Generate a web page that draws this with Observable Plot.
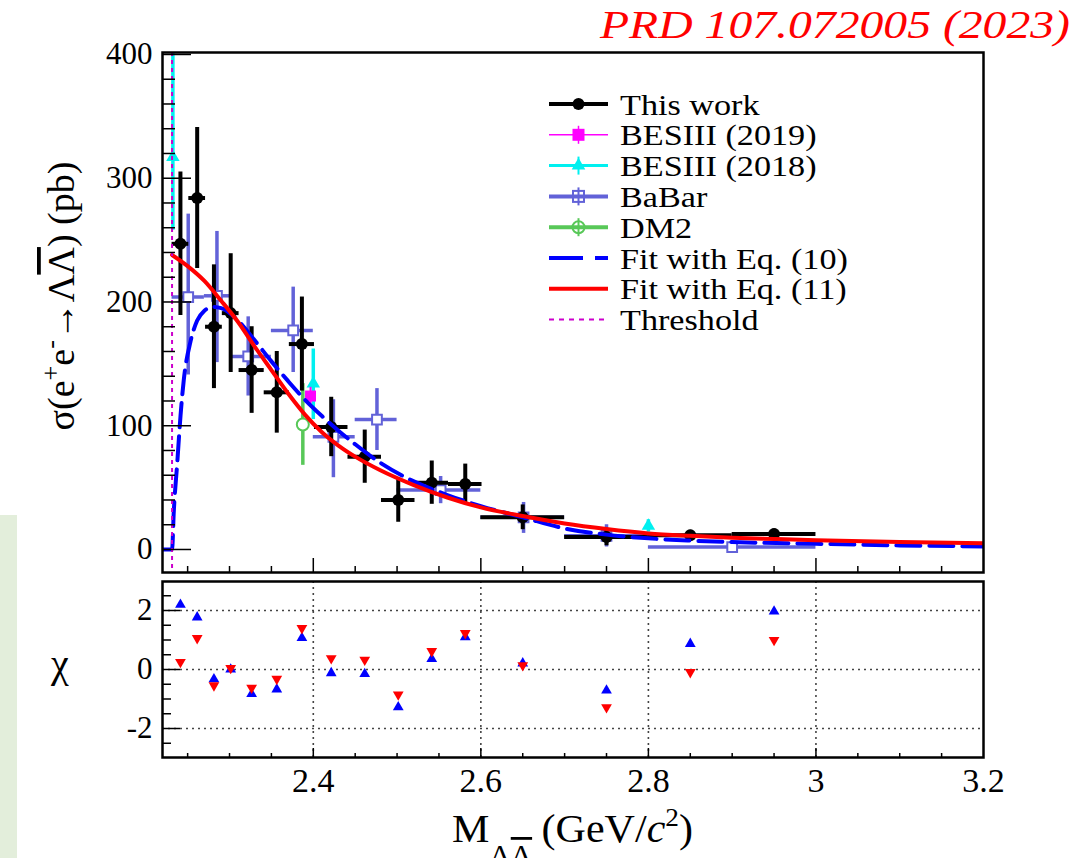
<!DOCTYPE html>
<html><head><meta charset="utf-8">
<script src="https://cdn.jsdelivr.net/npm/d3@7"></script>
<script src="https://cdn.jsdelivr.net/npm/@observablehq/plot@0.6"></script>
<style>
html,body{margin:0;padding:0;background:#fff;}
#fig{position:relative;width:1090px;height:858px;overflow:hidden;font-family:"Liberation Serif","Times New Roman",serif;}
#fig > svg{position:absolute;left:0;top:0;}
#greenbox{position:absolute;left:0;top:515px;width:17px;height:343px;background:#e3eedb;}
</style></head><body><div id="fig"><div id="greenbox"></div></div>
<script>
// ---------------- data ----------------
const thresholdMass = [2.2314];

// This work (BESIII ISR)
const twMass  = [2.2414, 2.2614, 2.2814, 2.3014, 2.3264, 2.3564, 2.3864, 2.4214, 2.4614, 2.5014, 2.5414, 2.5814, 2.65, 2.75, 2.85, 2.95];
const twLo    = [2.2314, 2.2514, 2.2714, 2.2914, 2.3114, 2.3414, 2.3714, 2.4014, 2.4414, 2.4814, 2.5214, 2.5614, 2.60, 2.70, 2.80, 2.90];
const twHi    = [2.2514, 2.2714, 2.2914, 2.3114, 2.3414, 2.3714, 2.4014, 2.4414, 2.4814, 2.5214, 2.5614, 2.6014, 2.70, 2.80, 2.90, 3.00];
const twSigma = [247, 284, 180, 191, 145, 127, 166, 99, 75, 40, 54, 53, 26, 10, 11.5, 12.5];
const twErr   = [58, 57, 50, 48, 35, 33, 38, 24, 21.5, 18, 17.5, 16, 10, 7, 4, 4];

// BaBar
const bbMass  = [2.2507, 2.285, 2.3223, 2.376, 2.424, 2.476, 2.552, 2.651, 2.75, 2.90];
const bbLo    = [2.2314, 2.27, 2.30, 2.35, 2.40, 2.45, 2.50, 2.60, 2.70, 2.80];
const bbHi    = [2.27, 2.30, 2.35, 2.40, 2.45, 2.50, 2.60, 2.70, 2.80, 3.00];
const bbSigma = [204, 205, 156, 177, 91, 105, 48, 26, 11, 2];
const bbErrLo = [63, 54, 32, 34, 33, 25, 11, 13, 9, 2];
const bbErrHi = [67, 52, 32, 35, 30, 25, 11, 12, 9, 2];

// DM2
const dmMass = [2.3875];
const dmSigma = [101];
const dmErr = [33];

// BESIII (2018)
const b18Mass  = [2.2324, 2.400, 2.800];
const b18Sigma = [317, 134, 19];
const b18ErrLo = [59, 29, 5];
const b18ErrHi = [90, 28, 5];

// BESIII (2019)
const b19Mass = [2.3967];
const b19Sigma = [124];
const b19Err = [7];

// Fit with Eq. (10) (blue dashed)
const fit10Mass  = [2.2200, 2.2314, 2.2335, 2.2376, 2.2415, 2.2454, 2.2534, 2.2614, 2.2700, 2.2800, 2.2900, 2.3100, 2.3300, 2.3500, 2.3700, 2.3900, 2.4100, 2.4300, 2.4500, 2.4800, 2.5200, 2.5600, 2.6000, 2.6500, 2.7000, 2.7500, 2.8000, 2.8500, 2.9000, 3.0000, 3.1000, 3.2000];
const fit10Sigma = [0, 0, 31, 70, 108, 137, 168, 185, 193, 196, 195, 185, 169, 152, 136, 121, 108, 96, 85, 70, 55, 44, 35, 26, 17, 12, 9, 7.2, 6, 4.6, 3.3, 2.5];

// Fit with Eq. (11) (red solid)
const fit11Mass  = [2.2314, 2.2500, 2.2700, 2.2900, 2.3100, 2.3300, 2.3500, 2.3700, 2.3900, 2.4100, 2.4300, 2.4500, 2.4800, 2.5200, 2.5600, 2.6000, 2.6500, 2.7000, 2.7500, 2.8000, 2.8500, 2.9000, 2.9500, 3.0000, 3.1000, 3.2000];
const fit11Sigma = [238, 229, 217, 201, 184, 164, 145, 126, 109, 95, 84, 75, 64, 52, 42, 34, 27, 21, 16.5, 13, 11, 9.5, 8.5, 7.5, 6, 5];

// chi residuals
const chi10 = [2.2, 1.77, -0.33, 0.0, -0.83, -0.67, 1.07, -0.12, -0.15, -1.28, 0.36, 1.1, 0.21, -0.71, 0.87, 1.97];
const chi11 = [0.25, 1.06, -0.54, 0.05, -0.62, -0.32, 1.4, 0.38, 0.33, -0.85, 0.62, 1.23, 0.14, -1.28, -0.09, 1.0];

// ticks / labels
const sigmaTickLabels = [0, 100, 200, 300, 400];
const sigmaMinorTicks = [20, 40, 60, 80, 120, 140, 160, 180, 220, 240, 260, 280, 320, 340, 360, 380];
const chiTickLabels = [-2, 0, 2];
const chiMinorTicks = [-2.5, -1.5, -1, -0.5, 0.5, 1, 1.5, 2.5];
const massTickLabels = [2.4, 2.6, 2.8, 3.0, 3.2];
const massMinorTicks = [2.25, 2.3, 2.35, 2.45, 2.5, 2.55, 2.65, 2.7, 2.75, 2.85, 2.9, 2.95, 3.05, 3.1, 3.15];
const massGrid = [2.4, 2.6, 2.8, 3.0];
const titleText = "PRD 107.072005 (2023)";
const legendLabels = ["This work", "BESIII (2019)", "BESIII (2018)", "BaBar", "DM2", "Fit with Eq. (10)", "Fit with Eq. (11)", "Threshold"];

// ---------------- tables ----------------
const tw = twMass.map((m, i) => ({m, lo: twLo[i], hi: twHi[i], s: twSigma[i], y1: twSigma[i] - twErr[i], y2: twSigma[i] + twErr[i]}));
const bb = bbMass.map((m, i) => ({m, lo: bbLo[i], hi: bbHi[i], s: bbSigma[i], y1: bbSigma[i] - bbErrLo[i], y2: bbSigma[i] + bbErrHi[i]}));
const dm = dmMass.map((m, i) => ({m, s: dmSigma[i], y1: dmSigma[i] - dmErr[i], y2: dmSigma[i] + dmErr[i]}));
const b18 = b18Mass.map((m, i) => ({m, s: b18Sigma[i], y1: b18Sigma[i] - b18ErrLo[i], y2: b18Sigma[i] + b18ErrHi[i]}));
const b19 = b19Mass.map((m, i) => ({m, s: b19Sigma[i], y1: b19Sigma[i] - b19Err[i], y2: b19Sigma[i] + b19Err[i]}));
const fit10 = fit10Mass.map((m, i) => ({m, s: fit10Sigma[i]}));
const fit11 = fit11Mass.map((m, i) => ({m, s: fit11Sigma[i]}));
const chi = twMass.map((m, i) => ({m, c10: chi10[i], c11: chi11[i]}));

// ---------------- style ----------------
const W = 1090, H = 858;
const FONT = "Liberation Serif, Times New Roman, serif";
const cBaBar = "#6262d8", cDM2 = "#58c858", cCyan = "#00f0f0", cMag = "#ff00ff", cThr = "#cc00cc";
const mL = 162, mR = 107;
const frameW = W - mL - mR;
const topT = 52, topB = 572, botT = 581, botB = 757;
const topFH = topB - topT, botFH = botB - botT;
const fmt = d => String(+d.toFixed(2));

const fig = document.getElementById("fig");

const topPlot = Plot.plot({
  width: W, height: H,
  marginLeft: mL, marginRight: mR, marginTop: topT, marginBottom: H - topB,
  style: {background: "none", fontFamily: FONT, fontSize: "31px", color: "black", overflow: "visible"},
  x: {domain: [2.22, 3.2], axis: null},
  y: {domain: [-18.6, 401.6], axis: null},
  marks: [
    // BaBar
    Plot.ruleY(bb, {y: "s", x1: "lo", x2: "hi", stroke: cBaBar, strokeWidth: 3.5, clip: true}),
    Plot.ruleX(bb, {x: "m", y1: "y1", y2: "y2", stroke: cBaBar, strokeWidth: 3.5, clip: true}),
    Plot.dot(bb, {x: "m", y: "s", symbol: "square", r: 5.5, fill: "white", stroke: cBaBar, strokeWidth: 2}),
    // DM2
    Plot.ruleX(dm, {x: "m", y1: "y1", y2: "y2", stroke: cDM2, strokeWidth: 3.5}),
    Plot.dot(dm, {x: "m", y: "s", r: 6, fill: "white", stroke: cDM2, strokeWidth: 2}),
    // BESIII 2018
    Plot.ruleX(b18, {x: "m", y1: "y1", y2: "y2", stroke: cCyan, strokeWidth: 3.5, clip: true}),
    Plot.dot(b18, {x: "m", y: "s", symbol: "triangle", r: 5, fill: cCyan}),
    // BESIII 2019
    Plot.ruleX(b19, {x: "m", y1: "y1", y2: "y2", stroke: cMag, strokeWidth: 2}),
    Plot.dot(b19, {x: "m", y: "s", symbol: "square", r: 6.2, fill: cMag}),
    // This work
    Plot.ruleY(tw, {y: "s", x1: "lo", x2: "hi", stroke: "black", strokeWidth: 4}),
    Plot.ruleX(tw, {x: "m", y1: "y1", y2: "y2", stroke: "black", strokeWidth: 4}),
    Plot.dot(tw, {x: "m", y: "s", r: 6, fill: "black"}),
    // fits
    Plot.line(fit10, {x: "m", y: "s", stroke: "#0000ff", strokeWidth: 4, strokeDasharray: "24,9", curve: "monotone-x", clip: true}),
    Plot.line(fit11, {x: "m", y: "s", stroke: "#ff0000", strokeWidth: 4, curve: "monotone-x", clip: true}),
    Plot.ruleX(thresholdMass, {x: d => d, stroke: cThr, strokeWidth: 2, strokeDasharray: "4,4"}),
    // inward ticks
    Plot.tickY(sigmaTickLabels, {y: d => d, stroke: "black", strokeWidth: 1.5, insetRight: frameW - 29}),
    Plot.tickY(sigmaMinorTicks, {y: d => d, stroke: "black", strokeWidth: 1.5, insetRight: frameW - 13}),
    Plot.tickX(massGrid, {x: d => d, stroke: "black", strokeWidth: 1.5, insetTop: topFH - 14}),
    Plot.tickX(massMinorTicks, {x: d => d, stroke: "black", strokeWidth: 1.5, insetTop: topFH - 6}),
    Plot.frame({stroke: "black", strokeWidth: 2.5}),
    Plot.axisY(sigmaTickLabels, {anchor: "left", tickSize: 0, tickPadding: 10, fontSize: 31, tickFormat: fmt, label: null})
  ]
});
fig.appendChild(topPlot);

const botPlot = Plot.plot({
  width: W, height: H,
  marginLeft: mL, marginRight: mR, marginTop: botT, marginBottom: H - botB,
  style: {background: "none", fontFamily: FONT, fontSize: "31px", color: "black", overflow: "visible"},
  x: {domain: [2.22, 3.2], axis: null},
  y: {domain: [-2.983, 2.983], axis: null},
  marks: [
    Plot.ruleY(chiTickLabels, {y: d => d, stroke: "#444", strokeWidth: 1.6, strokeDasharray: "2,4"}),
    Plot.ruleX(massGrid, {x: d => d, stroke: "#444", strokeWidth: 1.6, strokeDasharray: "2,4"}),
    Plot.tickY(chiTickLabels, {y: d => d, stroke: "black", strokeWidth: 1.5, insetRight: frameW - 18}),
    Plot.tickY(chiMinorTicks, {y: d => d, stroke: "black", strokeWidth: 1.5, insetRight: frameW - 9}),
    Plot.tickX(massGrid, {x: d => d, stroke: "black", strokeWidth: 1.5, insetTop: botFH - 9}),
    Plot.tickX(massMinorTicks, {x: d => d, stroke: "black", strokeWidth: 1.5, insetTop: botFH - 4}),
    Plot.dot(chi, {x: "m", y: "c10", symbol: "triangle", r: 4, fill: "#0000ff"}),
    Plot.dot(chi, {x: "m", y: "c11", symbol: "triangle", r: 4, fill: "#ff0000", rotate: 180}),
    Plot.frame({stroke: "black", strokeWidth: 2.5}),
    Plot.axisY(chiTickLabels, {anchor: "left", tickSize: 0, tickPadding: 10, fontSize: 31, tickFormat: d => String(d), label: null}),
    Plot.axisX(massTickLabels, {anchor: "bottom", tickSize: 0, tickPadding: 10, fontSize: 34, tickFormat: fmt, label: null})
  ]
});
fig.appendChild(botPlot);

// ---------------- overlay texts & legend ----------------
const ov = d3.create("svg").attr("width", W).attr("height", H)
  .style("font-family", FONT).style("pointer-events", "none");

// title
ov.append("text").attr("x", 600).attr("y", 38).attr("font-size", 40).attr("font-style", "italic")
  .attr("fill", "#ff0000").attr("textLength", 470).attr("lengthAdjust", "spacingAndGlyphs").text(titleText);

// y title
const yt = ov.append("text").attr("transform", "translate(74,296) rotate(-90)")
  .attr("text-anchor", "middle").attr("font-size", 38).attr("fill", "black");
yt.append("tspan").text("σ(e");
yt.append("tspan").attr("font-size", 26).attr("dy", -15).text("+");
yt.append("tspan").attr("dy", 15).text("e");
yt.append("tspan").attr("font-size", 26).attr("dy", -15).text("-");
yt.append("tspan").attr("dy", 15).text("→Λ");
yt.append("tspan").style("text-decoration", "overline").text("Λ");
yt.append("tspan").text(") (pb)");

// chi label
ov.append("text").attr("x", 60).attr("y", 677).attr("text-anchor", "middle").attr("font-size", 40).text("χ");

// x title
const xt = ov.append("text").attr("x", 452).attr("y", 842).attr("font-size", 40)
  .attr("textLength", 241).attr("lengthAdjust", "spacingAndGlyphs");
xt.append("tspan").text("M");
xt.append("tspan").attr("font-size", 28).attr("dy", 22).text("Λ");
xt.append("tspan").attr("font-size", 28).style("text-decoration", "overline").text("Λ");
xt.append("tspan").attr("dy", -22).attr("dx", 9).text("(GeV/");
xt.append("tspan").attr("font-style", "italic").text("c");
xt.append("tspan").attr("font-size", 26).attr("dy", -16).text("2");
xt.append("tspan").attr("dy", 16).text(")");

// legend
const lx1 = 549, lx2 = 608, lxc = 578.5, ltx = 620;
const rowY = i => 104 + i * 30.8;
const lg = ov.append("g");
legendLabels.forEach((lab, i) => {
  const y = rowY(i);
  const g = lg.append("g");
  const line = (stroke, w, dash) => g.append("line").attr("x1", lx1).attr("x2", lx2).attr("y1", y).attr("y2", y)
    .attr("stroke", stroke).attr("stroke-width", w).attr("stroke-dasharray", dash || null);
  const vbar = (stroke, w, h) => g.append("line").attr("x1", lxc).attr("x2", lxc).attr("y1", y - h).attr("y2", y + h)
    .attr("stroke", stroke).attr("stroke-width", w);
  if (i === 0) { line("black", 4); g.append("circle").attr("cx", lxc).attr("cy", y).attr("r", 6).attr("fill", "black"); }
  if (i === 1) { line(cMag, 1.5); vbar(cMag, 1.5, 9); g.append("rect").attr("x", lxc - 6).attr("y", y - 6).attr("width", 12).attr("height", 12).attr("fill", cMag); }
  if (i === 2) { line(cCyan, 3); vbar(cCyan, 2, 9); g.append("path").attr("d", d3.symbol(d3.symbolTriangle, 80)()).attr("transform", `translate(${lxc},${y})`).attr("fill", cCyan); }
  if (i === 3) { line(cBaBar, 4); vbar(cBaBar, 2, 9); g.append("rect").attr("x", lxc - 5.5).attr("y", y - 5.5).attr("width", 11).attr("height", 11).attr("fill", "none").attr("stroke", cBaBar).attr("stroke-width", 2); }
  if (i === 4) { line(cDM2, 4); vbar(cDM2, 2, 9); g.append("circle").attr("cx", lxc).attr("cy", y).attr("r", 6).attr("fill", "none").attr("stroke", cDM2).attr("stroke-width", 2); }
  if (i === 5) { line("#0000ff", 4, "34,12"); }
  if (i === 6) { line("#ff0000", 4); }
  if (i === 7) { line(cThr, 2, "5,5"); }
  g.append("text").attr("transform", `translate(${ltx},${y + 10.5}) scale(1.14,1)`).attr("font-size", 30).attr("fill", "black").text(lab);
});

fig.appendChild(ov.node());
</script></body></html>
